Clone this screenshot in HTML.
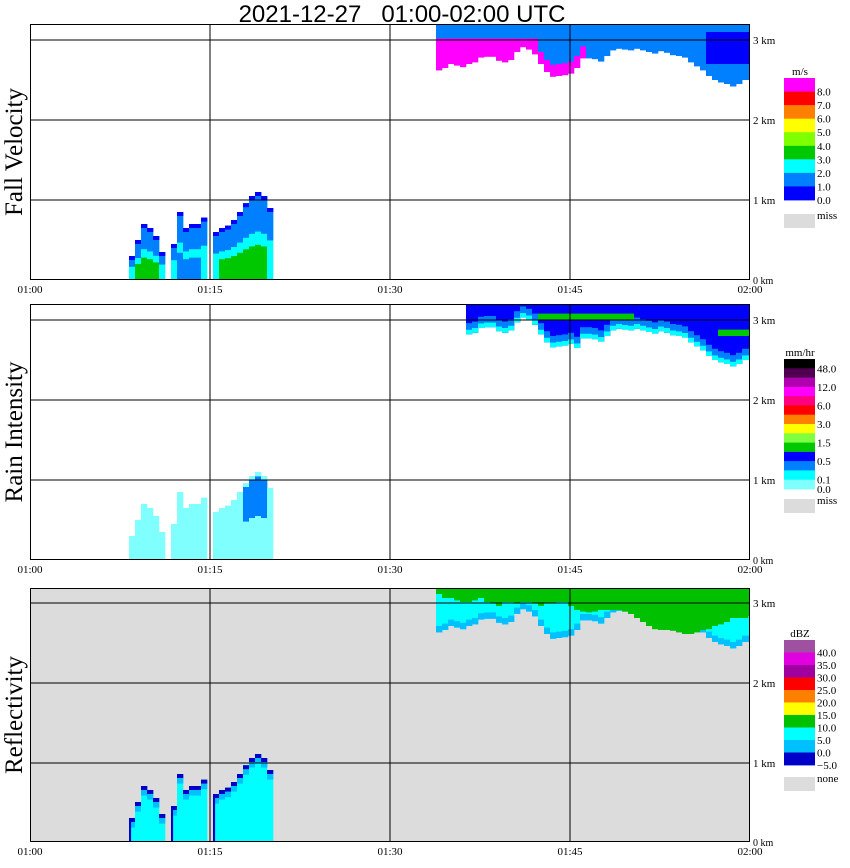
<!DOCTYPE html>
<html><head><meta charset="utf-8"><style>
body{margin:0;background:#fff;}
svg{display:block;font-family:"Liberation Serif",serif;}
</style></head><body>
<svg id="chart" width="850" height="868" viewBox="0 0 850 868" xmlns="http://www.w3.org/2000/svg">
<text x="402" y="22" text-anchor="middle" font-family="Liberation Sans, sans-serif" font-size="24" style="white-space:pre">2021-12-27   01:00-02:00 UTC</text>
</svg>
<script>
// ---- data ----
const timeTicks = ["01:00","01:15","01:30","01:45","02:00"];
const tickMinutes = [0,15,30,45,60];
const kmTicks = [0,1,2,3];
// upper cloud: start minute, 0.5-min columns, echo base height (km)
const cloudStart = 33.83;
const cloudBase = [2.62,2.65,2.7,2.68,2.66,2.7,2.72,2.78,2.79,2.79,2.74,2.72,2.75,2.85,2.91,2.88,2.82,2.7,2.6,2.54,2.55,2.56,2.58,2.65,2.77,2.77,2.76,2.73,2.8,2.87,2.89,2.88,2.87,2.89,2.87,2.85,2.83,2.86,2.84,2.81,2.8,2.78,2.72,2.67,2.62,2.55,2.5,2.47,2.45,2.42,2.45,2.5,2.5];
// reflectivity green (>10 dBZ) base height per column
const greenBase = [3.1,3.05,3.05,3.02,3.0,3.0,3.02,3.05,3.0,2.98,2.95,3.0,3.0,2.98,3.0,3.0,2.98,2.95,2.98,2.98,3.0,3.0,2.95,2.9,2.88,2.87,2.88,2.9,2.9,2.9,2.9,2.88,2.85,2.8,2.75,2.7,2.66,2.65,2.65,2.64,2.62,2.6,2.6,2.62,2.65,2.66,2.7,2.72,2.75,2.8,2.8,2.8,2.82];
// low convective cells
const cellAStart = 8.25, cellATops = [0.3,0.5,0.7,0.65,0.55,0.35];
const cellBStart = 11.75, cellBTops = [0.45,0.85,0.65,0.7,0.7,0.78];
const cellCStart = 15.25, cellCTops = [0.6,0.65,0.68,0.75,0.85,0.96,1.05,1.1,1.05,0.9];
// legends
const fvColors = ["#ff00ff","#ff0000","#ff8000","#ffff00","#80ff00","#00c800","#00ffff","#0080ff","#0000ff"];
const fvLabels = ["8.0","7.0","6.0","5.0","4.0","3.0","2.0","1.0","0.0"];
const riColors = ["#000000","#500050","#b000b0","#ff00ff","#ff0080","#ff0000","#ff8000","#ffff00","#80ff40","#00c800","#0000ff","#0080ff","#00ffff","#80ffff"];
const riLabels = ["48.0","","12.0","","6.0","","3.0","","1.5","","0.5","","0.1","0.0"];
const dbColors = ["#a050a0","#e000e0","#a000a0","#ff0000","#ff8000","#ffff00","#00c000","#00ffff","#00c0ff","#0000c8"];
const dbLabels = ["40.0","35.0","30.0","25.0","20.0","15.0","10.0","5.0","0.0","\u22125.0"];

const svg = document.getElementById('chart');
const NS = "http://www.w3.org/2000/svg";
function mk(tag, attrs, parent){const e=document.createElementNS(NS,tag);for(const k in attrs)e.setAttribute(k,attrs[k]);(parent||svg).appendChild(e);return e;}

const panels = [
 {name:"fall-velocity", title:"Fall Velocity", top:24, bottom:280, bg:"#ffffff"},
 {name:"rain-intensity", title:"Rain Intensity", top:304, bottom:560, bg:"#ffffff"},
 {name:"reflectivity", title:"Reflectivity", top:588, bottom:842, bg:"#dcdcdc"}
];
const X0=30, X1=750;
function xs(t){return X0 + t*(X1-X0)/60;}
function ys(p,h){return Math.max(p.top, p.bottom - h*80);}

function band(g,p,t,w,h0,h1,color){
  if(h1<=h0) return;
  const y1=ys(p,h1), y0=ys(p,h0);
  if(y0-y1<=0) return;
  const r=mk('rect',{x:xs(t).toFixed(1),y:y1.toFixed(1),width:(xs(w)-xs(0)+0.3).toFixed(1),height:(y0-y1).toFixed(1),fill:color},g);
  
  
}
const defs=mk('defs',{});

panels.forEach((p,pi)=>{
  const cp=mk('clipPath',{id:'clip'+pi},defs);
  mk('rect',{x:X0,y:p.top,width:X1-X0,height:p.bottom-p.top},cp);
  const g0=mk('g',{});
  
  
  const g=mk('g',{'clip-path':'url(#clip'+pi+')'},g0);
  
  
  const bg=mk('rect',{x:X0,y:p.top,width:X1-X0,height:p.bottom-p.top,fill:p.bg},g);
  
  
  const TOP=(p.bottom-p.top)/80;
  cloudBase.forEach((b,i)=>{
    const t=cloudStart+i*0.5;
    if(pi===0){
      band(g,p,t,0.5,b,TOP,t<46?"#ff00ff":"#0080ff");
      band(g,p,t,0.5,3.02,TOP,"#0080ff");
      if(t>=42&&t<46) band(g,p,t,0.5,b+0.15,TOP,"#0080ff");
      if(t>=56) band(g,p,t,0.5,2.7,3.1,"#0000ff");
      if(t>=56) band(g,p,t,0.5,b,b+0.06,"#0080ff");
    } else if(pi===1){
      if(t<36) return;
      const bb = t<45 ? b+0.12 : b;
      band(g,p,t,0.5,bb,TOP,"#0000ff");
      band(g,p,t,0.5,bb,bb+0.06,"#00ffff");
      band(g,p,t,0.5,bb+0.06,bb+0.14,"#0080ff");
      if(t>=42&&t<50) band(g,p,t,0.5,3.0,3.08,"#00c800");
      if(t>=57) band(g,p,t,0.5,2.8,2.88,"#00c800");
    } else {
      band(g,p,t,0.5,b,TOP,"#00ffff");
      band(g,p,t,0.5,b,b+0.08,"#00c0ff");
      band(g,p,t,0.5,greenBase[i],TOP,"#00c000");
    }
  });
  [[cellAStart,cellATops],[cellBStart,cellBTops],[cellCStart,cellCTops]].forEach(([s,tops],ci)=>{
    tops.forEach((h,i)=>{
      const t=s+i*0.5;
      if(pi===0){
        band(g,p,t,0.5,0,h,"#00ffff");
        band(g,p,t,0.5,h*0.55,h,"#0080ff");
        if(i>0&&i<tops.length-1) band(g,p,t,0.5,0,h*0.4,ci===1?"#0080ff":"#00c800");
        band(g,p,t,0.5,h-0.05,h,"#0000ff");
      } else if(pi===1){
        band(g,p,t,0.5,0,h,"#80ffff");
        if(ci===2&&i>=5&&i<=8) band(g,p,t,0.5,h*0.5,h*0.95,"#0080ff");
      } else {
        band(g,p,t,0.5,0,h,"#00ffff");
        band(g,p,t,0.5,h-0.12,h-0.05,"#00c0ff");
        band(g,p,t,0.5,h-0.05,h,"#0000c8");
        if(i===0) band(g,p,t,0.15,0,h,"#0000c8");
      }
    });
  });
  tickMinutes.slice(1,4).forEach(m=>{
    const l=mk('line',{x1:xs(m),x2:xs(m),y1:p.top,y2:p.bottom,stroke:"#000","stroke-width":1},g0);
    
    
  });
  kmTicks.slice(1).forEach(k=>{
    const y=p.bottom-k*80+(pi===2?1:0);
    const l=mk('line',{x1:X0,x2:X1,y1:y,y2:y,stroke:"#000","stroke-width":1},g0);
    
    
    const tx=mk('text',{x:753,y:y+4,"font-size":11},g0);
    tx.textContent=k+" km";
    
    
  });
  const z=mk('text',{x:753,y:p.bottom+4,"font-size":10},g0);
  z.textContent="0 km";
  
  
  const fr=mk('rect',{x:X0+0.5,y:p.top+0.5,width:X1-X0-1,height:p.bottom-p.top-1,fill:"none",stroke:"#000","stroke-width":1},g0);
  
  
  timeTicks.forEach((lab,i)=>{
    const tx=mk('text',{x:xs(tickMinutes[i]),y:p.bottom+13,"font-size":11,"text-anchor":"middle"},g0);
    tx.textContent=lab;
    
    
  });
  const cy=(p.top+p.bottom)/2;
  const ti=mk('text',{x:22,y:cy,"font-size":25,"text-anchor":"middle",transform:`rotate(-90 22 ${cy})`},g0);
  ti.textContent=p.title;
  
  
});

function legend(name,unit,top,bottom,colors,labels,missTop,missLabel){
  const g=mk('g',{});
  
  
  const u=mk('text',{x:800,y:top-3,"font-size":11,"text-anchor":"middle"},g);
  u.textContent=unit;
  
  
  const h=(bottom-top)/colors.length;
  colors.forEach((c,i)=>{
    const r=mk('rect',{x:784,y:(top+i*h).toFixed(1),width:31,height:(h+0.4).toFixed(1),fill:c},g);
    
    
    if(labels[i]){
      const t=mk('text',{x:817,y:(top+(i+1)*h+4).toFixed(1),"font-size":11},g);
      t.textContent=labels[i];
      
      
    }
  });
  const m=mk('rect',{x:784,y:missTop,width:31,height:14,fill:"#dcdcdc"},g);
  
  
  const mt=mk('text',{x:817,y:missTop+5,"font-size":11},g);
  mt.textContent=missLabel;
  
  
}
legend('fall-velocity-legend','m/s',78,200,fvColors,fvLabels,214,'miss');
legend('rain-intensity-legend','mm/hr',359,489,riColors,riLabels,499,'miss');
legend('reflectivity-legend','dBZ',640,765,dbColors,dbLabels,777,'none');
</script>
</body></html>
